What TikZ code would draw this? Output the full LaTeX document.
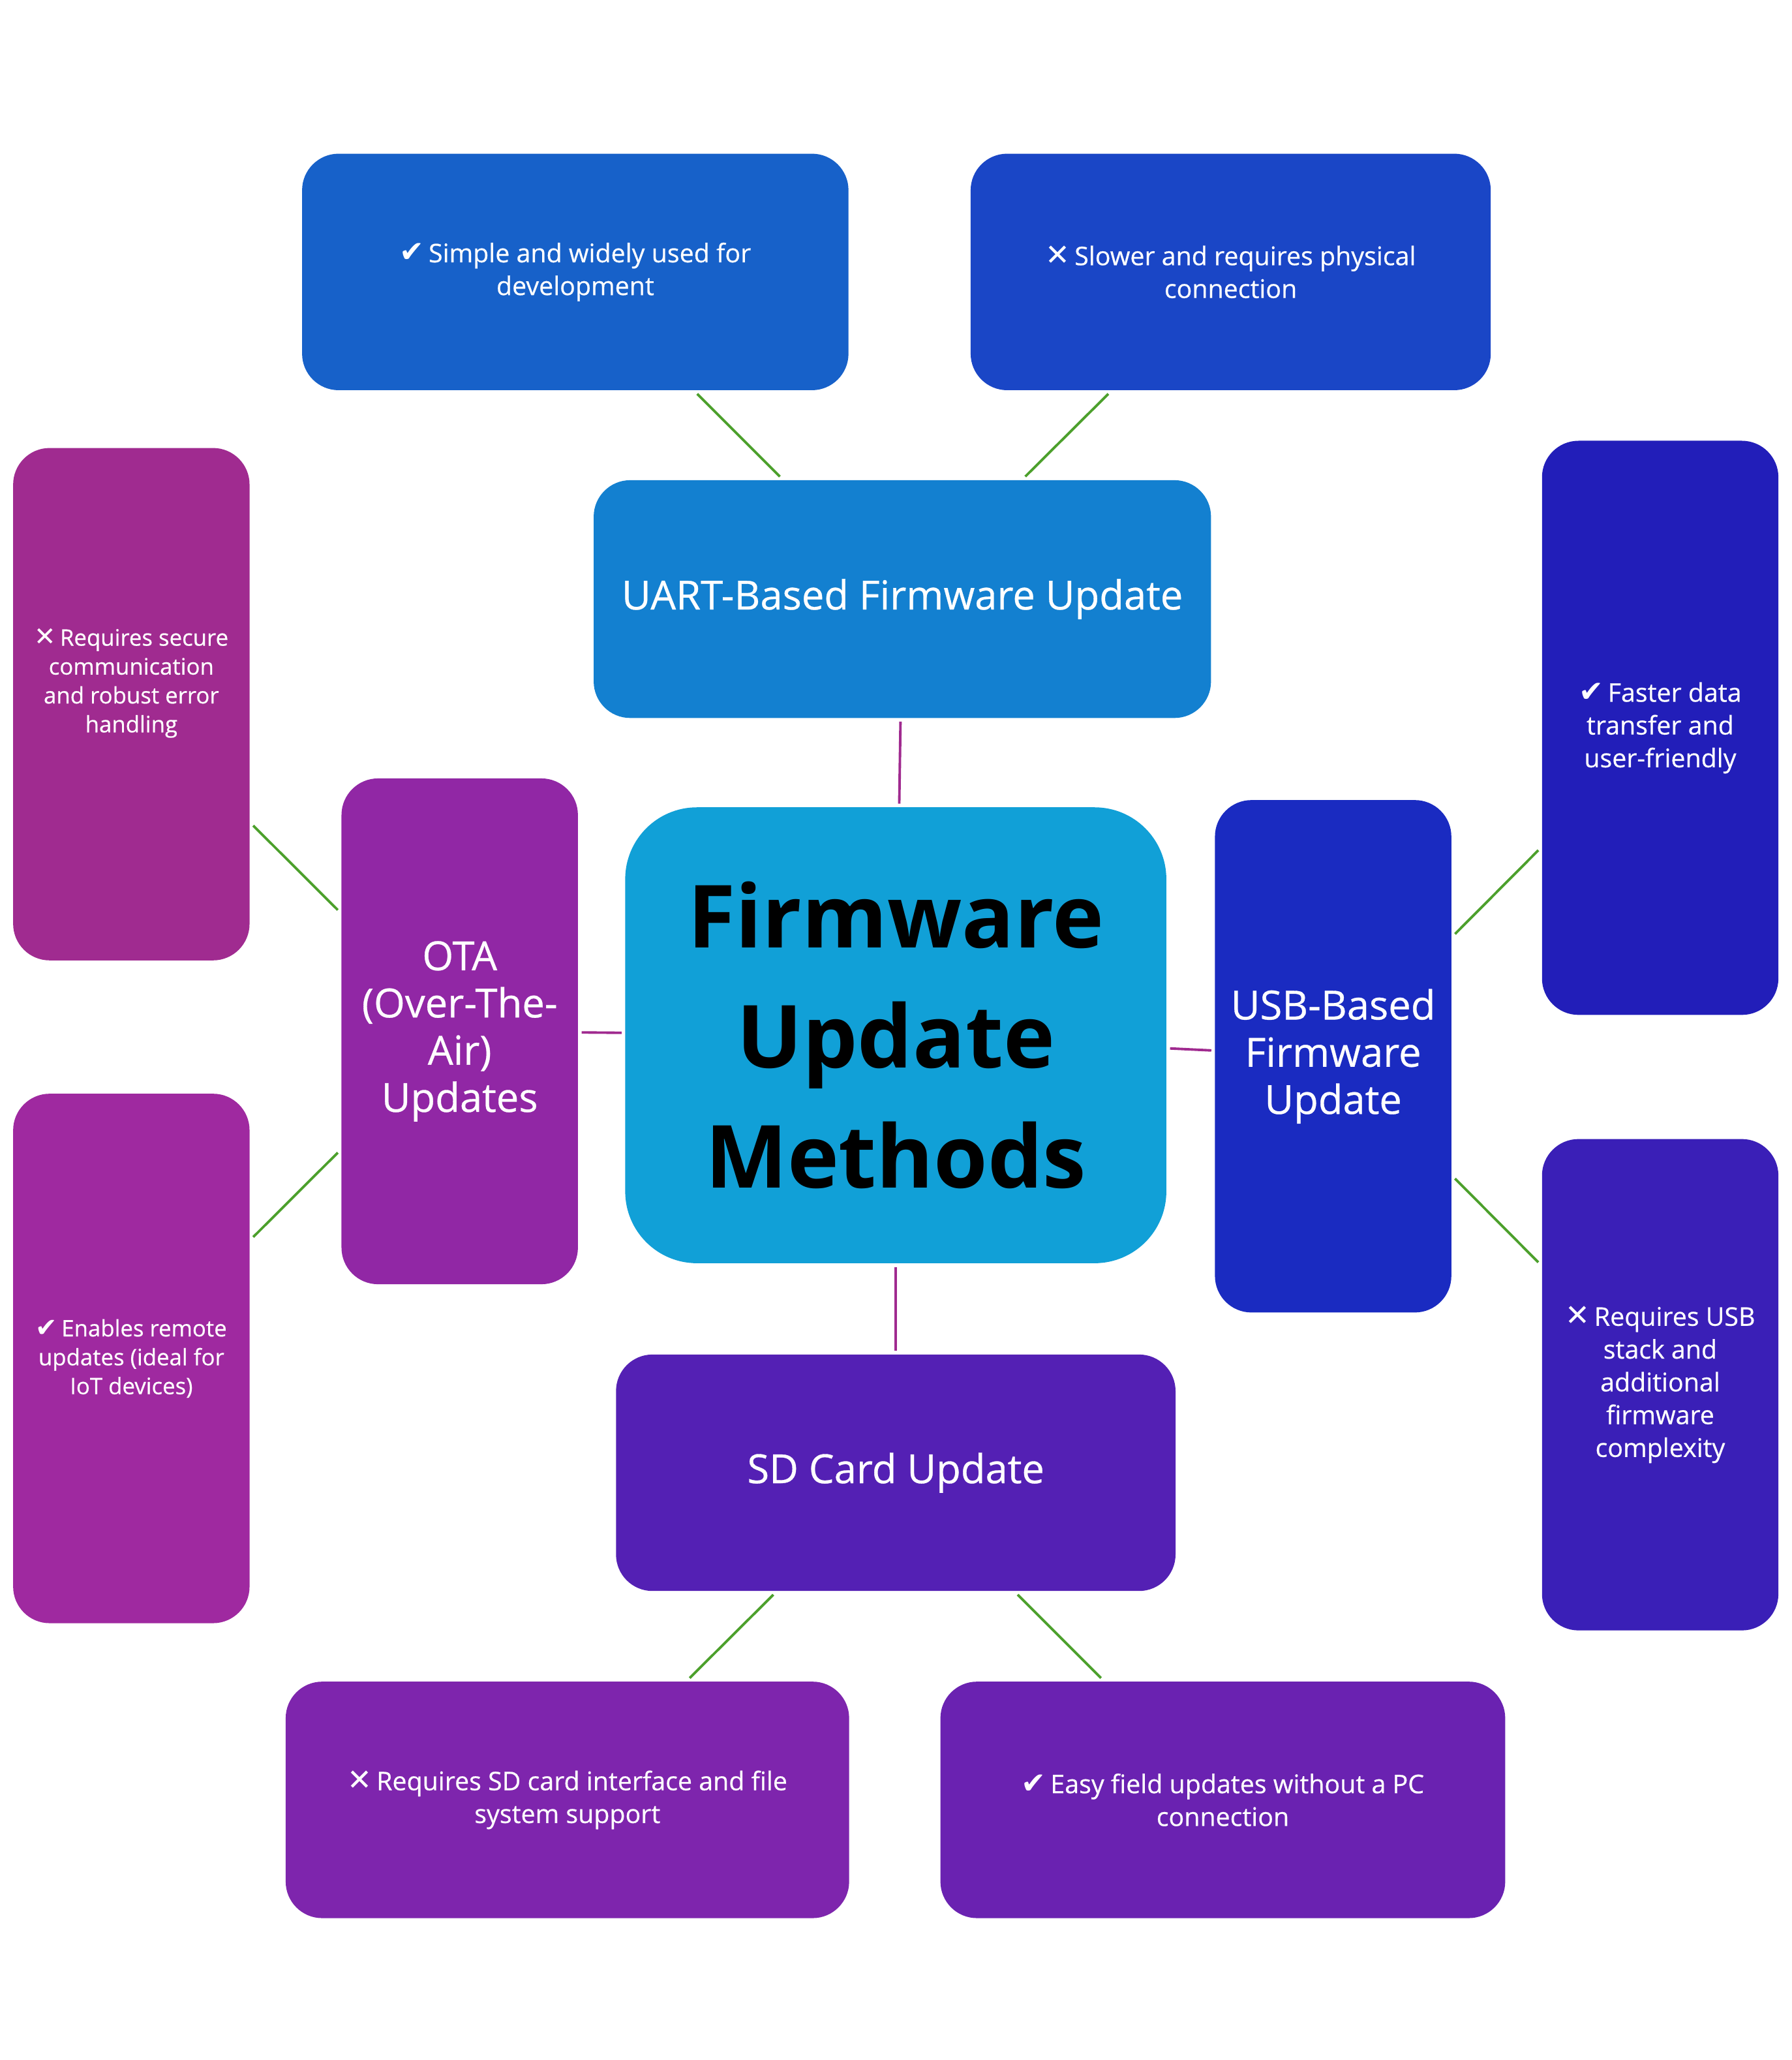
\documentclass[tikz,border=0pt]{standalone}
\usepackage{fontspec}
\setmainfont{Open Sans}
\newfontfamily\wfont{Open Sans}[FakeBold=0.5]
\newfontfamily\symf{DejaVu Sans}[Scale=1.15]
\newcommand\yesmark{{\symf ✔}\,}
\newcommand\nomark{{\symf\bfseries ✕}\,}
\definecolor{csimple}{HTML}{1761C9}
\definecolor{cslower}{HTML}{1A46C6}
\definecolor{cuart}{HTML}{1380D0}
\definecolor{ccenter}{HTML}{11A0D7}
\definecolor{cota}{HTML}{9127A5}
\definecolor{csecure}{HTML}{A02B90}
\definecolor{cenables}{HTML}{9F29A0}
\definecolor{cusb}{HTML}{1A2BC1}
\definecolor{cfaster}{HTML}{221EB9}
\definecolor{crequsb}{HTML}{3A1FB7}
\definecolor{csd}{HTML}{5420B4}
\definecolor{creqsd}{HTML}{7E25AD}
\definecolor{ceasy}{HTML}{6A22B1}
\definecolor{cgreen}{HTML}{4CA02C}
\definecolor{cpurp}{HTML}{A02A8F}
\begin{document}
\begin{tikzpicture}[x=0.02014cm, y=-0.02014cm,
  box/.style={rectangle, rounded corners=0.56cm, inner sep=0pt, outer sep=1.6pt, align=center, text=white},
  sz/.style 2 args={minimum width=#1*0.02014cm, minimum height=#2*0.02014cm},
  maintxt/.style={font=\wfont\fontsize{17.5}{20.6}\selectfont},
  leaftxt/.style={font=\wfont\fontsize{11.2}{14.3}\selectfont},
  lefttxt/.style={align=center, text=white, inner sep=0pt, font=\wfont\fontsize{9.9}{12.6}\selectfont},
  gline/.style={line width=1.1pt, draw=cgreen},
  pline/.style={line width=1.1pt, draw=cpurp}]
\useasboundingbox (0,0) rectangle (1364,1568);

% central node
\node[box, fill=ccenter, sz={412}{347}, rounded corners=1.1cm, text=black,
      font=\fontsize{38}{52.3}\selectfont\bfseries] (center) at (682,788) {Firmware\\Update\\Methods};

% main method nodes
\node[box, maintxt, fill=cuart, sz={470}{181}] (uart) at (687,456) {UART-Based Firmware Update};
\node[box, maintxt, fill=cota, sz={180}{385}] (ota) at (350,785) {OTA\\(Over-The-\\Air)\\Updates};
\node[box, maintxt, fill=cusb, sz={180}{390}] (usb) at (1015,804) {USB-Based\\Firmware\\Update};
\node[box, maintxt, fill=csd, sz={426}{180}] (sd) at (682,1121) {SD Card Update};

% leaf nodes
\node[box, leaftxt, fill=csimple, sz={416}{180}] (simple) at (438,207) {\yesmark Simple and widely used for\\development};
\node[box, leaftxt, fill=cslower, sz={396}{180}] (slower) at (937,207) {\nomark Slower and requires physical\\connection};
\node[box, fill=csecure, sz={180}{390}] (secure) at (100,536) {};
\node[lefttxt] (securetxt) at (100,520) {\nomark Requires secure\\communication\\and robust error\\handling};
\node[box, fill=cenables, sz={180}{403}, font=\wfont\fontsize{9.9}{12.6}\selectfont] (enables) at (100,1034) {\yesmark Enables remote\\updates (ideal for\\IoT devices)};
\node[box, leaftxt, fill=cfaster, sz={180}{437}] (faster) at (1264,554) {\yesmark Faster data\\transfer and\\user-friendly};
\node[box, leaftxt, fill=crequsb, sz={180}{374}] (requsb) at (1264,1054) {\nomark Requires USB\\stack and\\additional\\firmware\\complexity};
\node[box, leaftxt, fill=creqsd, sz={429}{180}] (reqsd) at (432,1370) {\nomark Requires SD card interface and file\\system support};
\node[box, leaftxt, fill=ceasy, sz={430}{180}] (easy) at (931,1370) {\yesmark Easy field updates without a PC\\connection};

% connectors to center
\draw[pline] (uart) -- (center);
\draw[pline] (ota) -- (center);
\draw[pline] (usb) -- (center);
\draw[pline] (center) -- (sd);

% connectors to leaves
\draw[gline] (simple) -- (uart);
\draw[gline] (slower) -- (uart);
\draw[gline] (secure) -- (ota);
\draw[gline] (enables) -- (ota);
\draw[gline] (faster) -- (usb);
\draw[gline] (requsb) -- (usb);
\draw[gline] (sd) -- (reqsd);
\draw[gline] (sd) -- (easy);
\end{tikzpicture}
\end{document}
